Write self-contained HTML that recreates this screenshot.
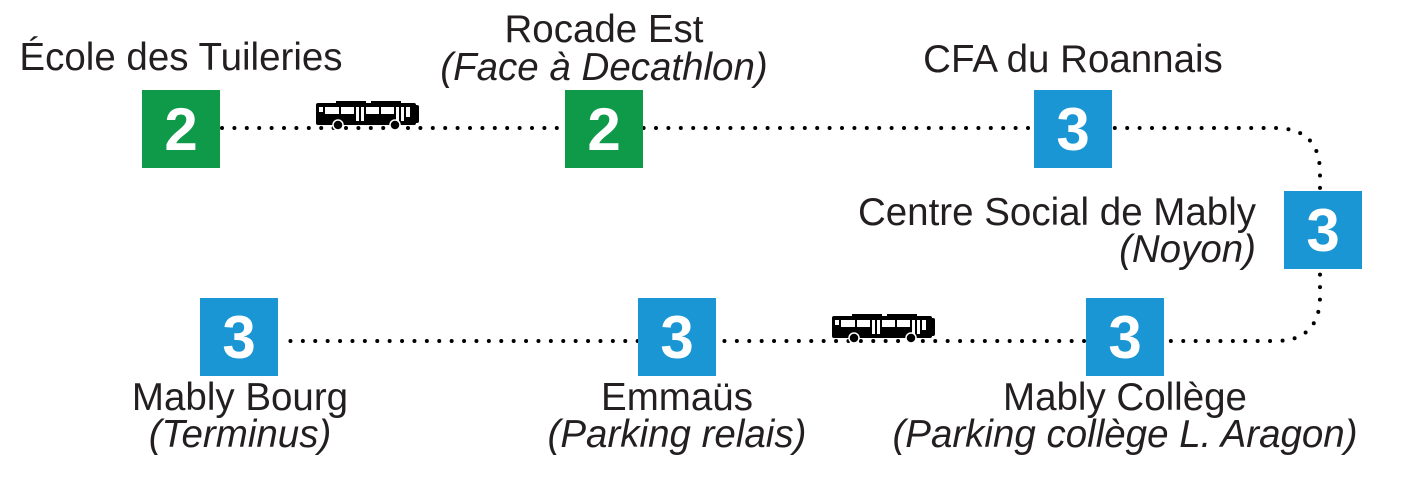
<!DOCTYPE html>
<html><head><meta charset="utf-8"><style>
html,body{margin:0;padding:0;background:#fff;}
svg{display:block;}
.t{font-family:"Liberation Sans",sans-serif;font-size:38.5px;fill:#231f20;}
.i{font-style:italic;}
.n{font-family:"Liberation Sans",sans-serif;font-size:60px;font-weight:bold;fill:#fff;text-anchor:middle;}
</style></head><body>
<svg width="1404" height="478" viewBox="0 0 1404 478" xmlns="http://www.w3.org/2000/svg">
<defs>
<g id="bus">
<rect x="0" y="2" width="100" height="22" rx="2" fill="#000"/>
<rect x="20" y="0" width="30" height="3" fill="#000"/>
<rect x="55" y="0" width="30" height="3" fill="#000"/>
<rect x="98" y="4" width="5" height="18" rx="2" fill="#000"/>
<rect x="3" y="6" width="4" height="5" fill="#fff"/>
<rect x="9" y="6" width="14" height="7" fill="#fff"/>
<rect x="25" y="6" width="13" height="7" fill="#fff"/>
<rect x="40" y="6" width="3" height="14" fill="#fff"/>
<rect x="45" y="6" width="3" height="14" fill="#fff"/>
<rect x="50" y="6" width="13" height="7" fill="#fff"/>
<rect x="65" y="6" width="13" height="7" fill="#fff"/>
<rect x="80" y="6" width="3" height="14" fill="#fff"/>
<rect x="85" y="6" width="3" height="14" fill="#fff"/>
<rect x="90" y="6" width="4" height="10" fill="#fff"/>
<circle cx="22" cy="24" r="5" fill="#000" stroke="#fff" stroke-width="1.5"/>
<circle cx="79" cy="24" r="5" fill="#000" stroke="#fff" stroke-width="1.5"/>
</g>
</defs>
<path d="M222,128 H1275 Q1320,128 1320,173 V296 Q1320,341 1275,341 H280" fill="none" stroke="#000" stroke-width="4" stroke-linecap="round" stroke-dasharray="0 12.4"/>
<use href="#bus" x="316" y="101"/>
<use href="#bus" x="832" y="314"/>

<rect x="142" y="90" width="78" height="78" fill="#0f9a4a"/><text class="n" x="181" y="150">2</text>
<rect x="565" y="90" width="78" height="78" fill="#0f9a4a"/><text class="n" x="604" y="150">2</text>
<rect x="1034" y="90" width="78" height="78" fill="#1a96d4"/><text class="n" x="1073" y="150">3</text>
<rect x="1284" y="191" width="78" height="78" fill="#1a96d4"/><text class="n" x="1323" y="251">3</text>
<rect x="200" y="298" width="78" height="78" fill="#1a96d4"/><text class="n" x="239" y="358">3</text>
<rect x="638" y="298" width="78" height="78" fill="#1a96d4"/><text class="n" x="677" y="358">3</text>
<rect x="1086" y="298" width="78" height="78" fill="#1a96d4"/><text class="n" x="1125" y="358">3</text>

<text class="t" x="181" y="70" text-anchor="middle">École des Tuileries</text>
<text class="t" x="604" y="42" text-anchor="middle">Rocade Est</text>
<text class="t i" x="604" y="80" text-anchor="middle">(Face à Decathlon)</text>
<text class="t" x="1073" y="72" text-anchor="middle">CFA du Roannais</text>
<text class="t" x="1256" y="225" text-anchor="end">Centre Social de Mably</text>
<text class="t i" x="1256" y="262" text-anchor="end">(Noyon)</text>
<text class="t" x="240" y="410" text-anchor="middle">Mably Bourg</text>
<text class="t i" x="240" y="447" text-anchor="middle">(Terminus)</text>
<text class="t" x="677" y="410" text-anchor="middle">Emmaüs</text>
<text class="t i" x="677" y="447" text-anchor="middle">(Parking relais)</text>
<text class="t" x="1125" y="410" text-anchor="middle">Mably Collège</text>
<text class="t i" x="1125" y="447" text-anchor="middle">(Parking collège L. Aragon)</text>
</svg>
</body></html>
